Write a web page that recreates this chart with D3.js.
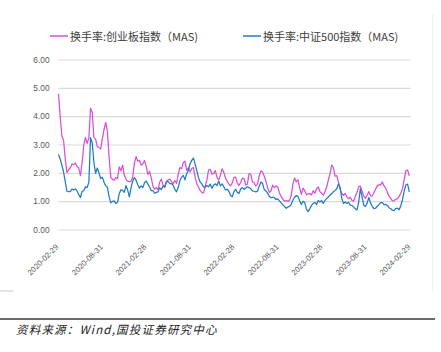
<!DOCTYPE html>
<html><head><meta charset="utf-8">
<script src="https://cdn.jsdelivr.net/npm/d3@7"></script>
<style>
html,body{margin:0;padding:0;background:#fff;}
svg{display:block;}
</style></head>
<body>
<svg id="chart" width="441" height="352"></svg>
<script>
// ---- data (weekly readings from the picture) ----
const weekStart = "2020-02-29";
const seriesNames = ["换手率:创业板指数（MAS)", "换手率:中证500指数（MAS)"];
const cyb = [
4.79,3.99,3.30,3.15,2.49,2.01,2.11,2.18,2.31,2.29,
2.35,2.22,2.17,1.90,2.36,2.98,3.25,3.03,3.23,4.28,
4.14,3.25,3.19,2.92,2.90,2.84,3.20,3.53,3.78,3.46,
2.55,1.84,1.77,1.74,1.83,1.80,2.21,2.07,2.27,1.92,
1.78,1.71,1.69,1.70,1.85,2.34,2.57,2.41,2.44,2.27,
2.32,2.43,2.23,1.94,2.05,1.82,1.53,1.42,1.48,1.41,
1.67,1.78,1.56,1.48,1.69,1.75,1.78,1.69,1.62,1.73,
1.63,1.95,2.19,2.14,2.37,2.41,2.09,2.18,2.03,2.15,
2.19,1.85,1.61,1.49,1.38,1.31,1.29,1.53,1.75,2.10,
2.12,1.95,1.98,2.08,1.83,1.75,
1.92,2.14,2.02,1.82,1.70,1.60,1.54,1.64,1.83,1.85,
1.64,1.55,1.67,1.81,1.80,1.57,1.60,1.97,1.95,1.68,
1.65,1.53,1.60,1.89,2.07,2.03,1.88,1.70,1.48,1.31,
1.36,1.57,1.48,1.54,1.50,1.29,1.17,1.07,1.00,1.02,
1.00,1.02,1.21,1.62,1.82,1.68,1.75,1.47,1.24,1.46,
1.37,1.23,1.26,1.27,1.22,1.37,1.28,1.43,1.50,1.34,
1.28,1.21,1.33,1.50,1.74,1.97,2.27,2.18,1.88,1.90,
1.67,1.42,1.27,1.21,1.27,1.15,1.09,1.14,1.03,1.00,
1.17,1.31,1.51,1.53,1.35,1.19,1.10,1.21,1.34,1.19,
1.18,1.30,1.42,1.54,1.58,1.57,1.68,1.54,1.46,1.31,
1.18,1.10,1.01,1.02,1.07,1.09,1.17,1.29,1.44,1.77,
2.08,2.10,1.89
];
const zz500 = [
2.65,2.48,2.27,2.03,1.69,1.35,1.34,1.34,1.43,1.40,
1.43,1.36,1.23,1.13,1.35,1.37,1.51,1.48,1.67,3.24,
3.06,2.36,1.98,2.17,2.00,1.80,1.84,1.67,1.54,1.49,
1.16,0.94,0.99,1.01,0.92,0.96,1.26,1.40,1.38,1.31,
1.55,1.40,1.15,1.48,1.71,1.83,1.74,1.58,1.46,1.54,
1.48,1.65,1.71,1.60,1.50,1.37,1.37,1.28,1.31,1.33,
1.47,1.41,1.53,1.52,1.70,1.69,1.62,1.62,1.56,1.41,
1.33,1.49,1.73,1.85,1.91,1.75,1.97,2.09,2.32,2.44,
2.52,2.31,2.08,1.83,1.68,1.61,1.50,1.50,1.55,1.51,
1.60,1.46,1.57,1.61,1.55,1.71,
1.54,1.61,1.51,1.40,1.42,1.35,1.21,1.15,1.33,1.42,
1.31,1.27,1.43,1.48,1.42,1.46,1.51,1.48,1.44,1.36,
1.35,1.33,1.35,1.53,1.68,1.63,1.41,1.36,1.28,1.17,
1.12,1.14,1.12,1.06,1.08,1.01,0.94,0.88,0.81,0.75,
0.79,0.82,0.89,1.04,1.14,1.20,1.17,1.01,0.88,1.00,
0.95,0.72,0.63,0.73,0.85,0.92,0.96,0.88,1.02,0.97,
1.02,0.92,1.03,1.09,1.15,1.21,1.27,1.33,1.38,1.44,
1.61,1.47,1.09,0.92,0.97,0.92,0.96,0.86,0.85,0.79,
0.73,0.69,0.97,1.44,1.15,0.85,0.81,0.93,1.13,0.94,
0.82,0.74,0.75,0.82,0.88,0.95,0.95,0.88,0.89,0.85,
0.77,0.73,0.68,0.67,0.75,0.75,0.70,0.85,1.06,1.36,
1.58,1.60,1.33
];
const xTickLabels = ["2020-02-29","2020-08-31","2021-02-28","2021-08-31","2022-02-28","2022-08-31","2023-02-28","2023-08-31","2024-02-29"];
const yTickValues = [0,1,2,3,4,5,6];
const sourceText = "资料来源：Wind,国投证券研究中心";

// ---- drawing ----
const parse = d3.timeParse("%Y-%m-%d");
const start = parse(weekStart);
const dates = cyb.map((_, i) => d3.timeDay.offset(start, 7 * i));
const colors = ["#D94FD9", "#1F7BC6"];

const svg = d3.select("#chart");
const x = d3.scaleTime().domain([parse(xTickLabels[0]), parse(xTickLabels[xTickLabels.length-1])]).range([58.5, 410.5]);
const y = d3.scaleLinear().domain([0, 6]).range([229.5, 59.5]);

// faint right border
svg.append("line").attr("x1",432.5).attr("x2",432.5).attr("y1",14).attr("y2",292)
  .attr("stroke","#f2f2f2").attr("stroke-width",1);

// gridlines + y labels
const yAxis = d3.axisLeft(y).tickValues(yTickValues).tickFormat(d3.format(".2f"))
  .tickSize(-(x.range()[1]-x.range()[0])).tickPadding(9);
const gy = svg.append("g").attr("transform",`translate(${x.range()[0]},0)`).call(yAxis);
gy.select(".domain").remove();
gy.selectAll(".tick line").attr("stroke","#d9d9d9").attr("stroke-width",1.2);
gy.selectAll(".tick text").attr("fill","#595959")
  .style("font-family","'Liberation Sans',sans-serif").style("font-size","8.3px");

// x labels
const xAxis = d3.axisBottom(x).tickValues(xTickLabels.map(parse)).tickFormat(d3.timeFormat("%Y-%m-%d")).tickSize(0);
const gx = svg.append("g").attr("transform",`translate(0,${y(0)})`).call(xAxis);
gx.select(".domain").remove();
gx.selectAll(".tick text")
  .attr("fill","#595959")
  .style("font-family","'Liberation Sans',sans-serif").style("font-size","7.8px")
  .attr("text-anchor","end").attr("dy",null).attr("y",0)
  .attr("transform","translate(0,18) rotate(-45)");

// lines
const line = d3.line().x((d,i)=>x(dates[i])).y(d=>y(d));
[cyb, zz500].forEach((s, k) => {
  svg.append("path").datum(s).attr("d", line).attr("fill","none")
    .attr("stroke", colors[k]).attr("stroke-width",1.25).attr("stroke-linejoin","round");
});

// legend
const legX = [50, 243];
seriesNames.forEach((n, k) => {
  svg.append("line").attr("x1",legX[k]).attr("x2",legX[k]+18).attr("y1",36).attr("y2",36)
    .attr("stroke",colors[k]).attr("stroke-width",1.5);
  svg.append("text").attr("x",legX[k]+20).attr("y",40.5).text(n)
    .attr("fill","#404040").style("font-family","'Noto Sans CJK SC',sans-serif").style("font-size","11px");
});

// footer
svg.append("line").attr("x1",0).attr("x2",435).attr("y1",319).attr("y2",319)
  .attr("stroke","#3a3a3a").attr("stroke-width",1.5);
svg.append("text").attr("x",16).attr("y",334).text(sourceText)
  .attr("fill","#222").style("font-family","'Noto Sans CJK SC',sans-serif")
  .style("font-size","11.5px").style("font-style","italic").style("letter-spacing","1.2px");

// small stub of neighbouring panel at bottom-left
svg.append("line").attr("x1",0).attr("x2",13).attr("y1",291).attr("y2",291)
  .attr("stroke","#c8c8c8").attr("stroke-width",1);
</script>
</body></html>
